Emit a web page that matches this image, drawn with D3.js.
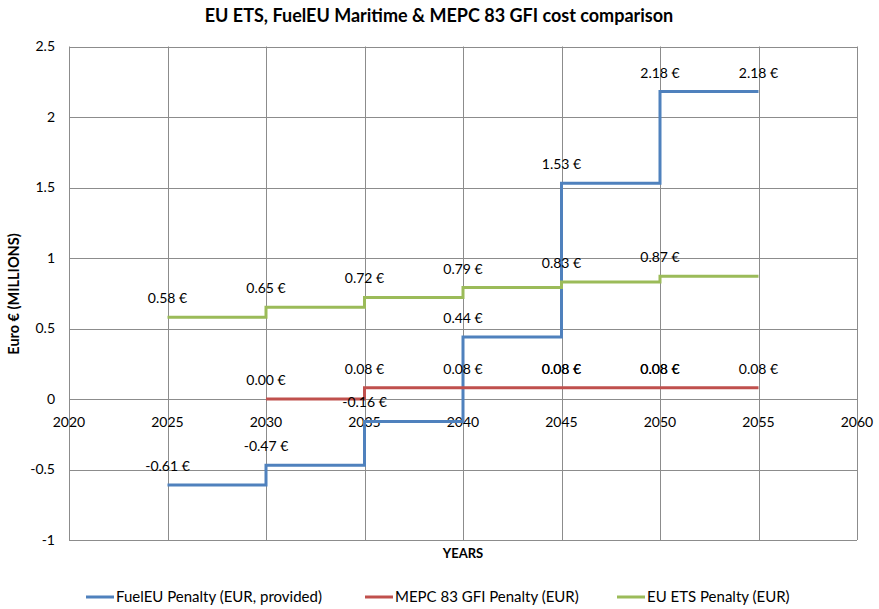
<!DOCTYPE html>
<html>
<head>
<meta charset="utf-8">
<script src="https://cdn.jsdelivr.net/npm/d3@7/dist/d3.min.js"></script>
<style>
  html, body { margin: 0; padding: 0; background: #fff; }
  svg { display: block; font-family: Lato, "Open Sans", sans-serif; }
</style>
</head>
<body>
<svg id="chart" width="879" height="609"></svg>
<script>
// ---- Data ----
const years = [2025, 2030, 2035, 2040, 2045, 2050, 2055];
const fuelEU = [-0.61, -0.47, -0.16, 0.44, 1.53, 2.18, 2.18];
const mepc = [null, 0.00, 0.08, 0.08, 0.08, 0.08, 0.08];
const ets = [0.58, 0.65, 0.72, 0.79, 0.83, 0.87, 0.87];
// which points carry a data label (count = times drawn, Excel duplicates)
const fuelEULabelCount = [1, 1, 1, 1, 1, 1, 1];
const mepcLabelCount = [0, 1, 1, 1, 2, 2, 1];
const etsLabelCount = [1, 1, 1, 1, 1, 1, 0];
const xTicks = [2020, 2025, 2030, 2035, 2040, 2045, 2050, 2055, 2060];
const yTicks = [-1, -0.5, 0, 0.5, 1, 1.5, 2, 2.5];
const seriesNames = ["FuelEU Penalty (EUR, provided)", "MEPC 83 GFI Penalty (EUR)", "EU ETS Penalty (EUR)"];
const seriesColors = ["#4F81BD", "#C0504D", "#9BBB59"];
const title = "EU ETS, FuelEU Maritime & MEPC 83 GFI cost comparison";
const xTitle = "YEARS";
const yTitle = "Euro € (MILLIONS)";

// ---- Layout ----
const svg = d3.select("#chart");
const plot = { left: 69, right: 857, top: 46.5, bottom: 540 };
const x = d3.scaleLinear().domain([2020, 2060]).range([plot.left, plot.right]);
const y = d3.scaleLinear().domain([-1, 2.5]).range([plot.bottom, plot.top]);
const gridColor = "#8c8c8c";
const loc = d3.formatLocale({ decimal: ".", thousands: ",", grouping: [3], currency: ["", "€"], minus: "-" });
const fmtTick = loc.format("");
const fmtVal = loc.format(".2f");

// gridlines
const g = svg.append("g");
g.selectAll("line.h").data(yTicks).enter().append("line")
  .attr("x1", plot.left).attr("x2", plot.right)
  .attr("y1", d => Math.round(y(d)) + 0.5).attr("y2", d => Math.round(y(d)) + 0.5)
  .attr("stroke", gridColor).attr("stroke-width", 1);
g.selectAll("line.v").data(xTicks).enter().append("line")
  .attr("y1", plot.top).attr("y2", plot.bottom)
  .attr("x1", d => Math.round(x(d)) + 0.5).attr("x2", d => Math.round(x(d)) + 0.5)
  .attr("stroke", gridColor).attr("stroke-width", 1);

// y tick labels
svg.append("g").selectAll("text").data(yTicks).enter().append("text")
  .attr("x", 55).attr("y", d => y(d)).attr("dy", "0.35em")
  .attr("text-anchor", "end").attr("font-size", 14).attr("fill", "#000")
  .text(d => fmtTick(d));

// x tick labels (axis crosses at 0)
svg.append("g").selectAll("text").data(xTicks).enter().append("text")
  .attr("x", d => x(d)).attr("y", y(0) + 23.5).attr("dy", "0.35em")
  .attr("text-anchor", "middle").attr("font-size", 14).attr("fill", "#000")
  .text(d => d);

// lines
const lineGen = d3.line()
  .defined(d => d.v !== null)
  .x(d => x(d.yr)).y(d => y(d.v))
  .curve(d3.curveStepAfter);
const allSeries = [fuelEU, mepc, ets];
allSeries.forEach((vals, i) => {
  const pts = years.map((yr, j) => ({ yr, v: vals[j] }));
  svg.append("path").datum(pts)
    .attr("d", lineGen)
    .attr("fill", "none")
    .attr("stroke", seriesColors[i])
    .attr("stroke-width", 3)
    .attr("stroke-linejoin", "miter");
});

// data labels
const labelCounts = [fuelEULabelCount, mepcLabelCount, etsLabelCount];
const lab = svg.append("g");
allSeries.forEach((vals, i) => {
  years.forEach((yr, j) => {
    const v = vals[j];
    if (v === null) return;
    for (let k = 0; k < labelCounts[i][j]; k++) {
      lab.append("text")
        .attr("x", x(yr)).attr("y", y(v) - 19).attr("dy", "0.35em")
        .attr("text-anchor", "middle").attr("font-size", 14).attr("fill", "#000")
        .text(fmtVal(v) + " €");
    }
  });
});

// titles
svg.append("text").attr("x", 439).attr("y", 16).attr("dy", "0.35em")
  .attr("text-anchor", "middle").attr("font-size", 18).attr("font-weight", "bold")
  .text(title);
svg.append("text").attr("x", 463).attr("y", 553).attr("dy", "0.35em")
  .attr("text-anchor", "middle").attr("font-size", 13).attr("font-weight", "bold")
  .text(xTitle);
svg.append("text")
  .attr("transform", "translate(14,294) rotate(-90)").attr("dy", "0.35em")
  .attr("text-anchor", "middle").attr("font-size", 14.5).attr("font-weight", "bold")
  .text(yTitle);

// legend
const legendX = [86, 365, 617];
const legY = 597;
seriesNames.forEach((name, i) => {
  svg.append("line")
    .attr("x1", legendX[i]).attr("x2", legendX[i] + 28)
    .attr("y1", legY).attr("y2", legY)
    .attr("stroke", seriesColors[i]).attr("stroke-width", 3);
  svg.append("text")
    .attr("x", legendX[i] + 30).attr("y", legY).attr("dy", "0.35em")
    .attr("font-size", 15).attr("fill", "#000")
    .text(name);
});
</script>
</body>
</html>
